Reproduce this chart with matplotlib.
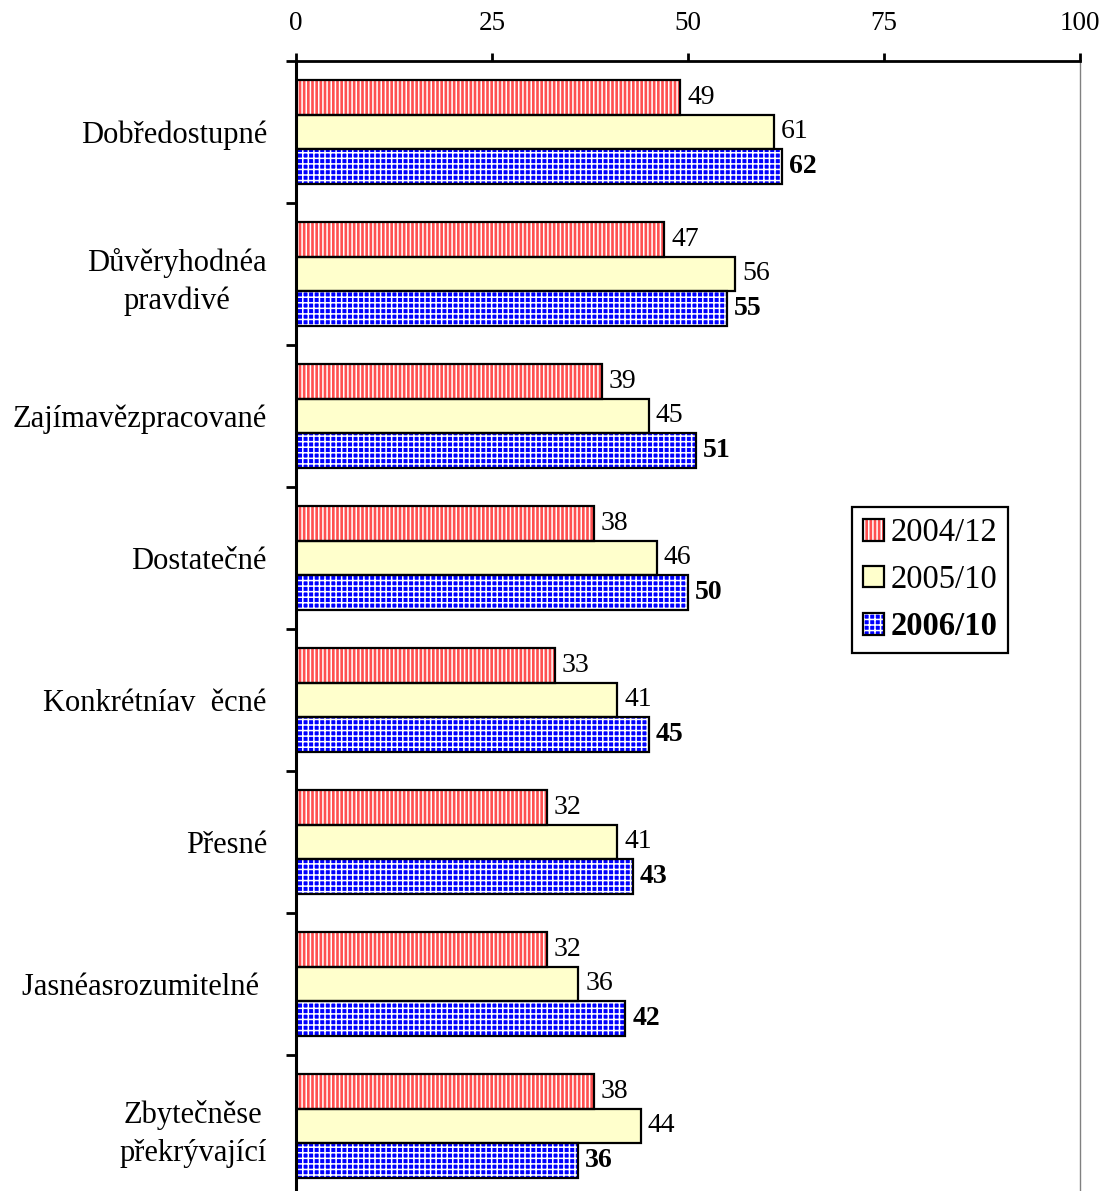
import matplotlib
matplotlib.use('Agg')
import matplotlib.pyplot as plt
import numpy as np
from matplotlib.patches import Patch
from matplotlib.legend_handler import HandlerTuple

# data
kategorie = ['Dobředostupné', 'Důvěryhodnéa\npravdivé', 'Zajímavězpracované', 'Dostatečné',
             'Konkrétníav  ěcné', 'Přesné', 'Jasnéasrozumitelné ', 'Zbytečněse\npřekrývající']
serie_2004_12 = [49, 47, 39, 38, 33, 32, 32, 38]
serie_2005_10 = [61, 56, 45, 46, 41, 41, 36, 44]
serie_2006_10 = [62, 55, 51, 50, 45, 43, 42, 36]
nazvy_serii = ['2004/12', '2005/10', '2006/10']
x_ticks = [0, 25, 50, 75, 100]

plt.rcParams['font.family'] = ['Liberation Serif', 'DejaVu Serif']
plt.rcParams['hatch.linewidth'] = 1.1

fig = plt.figure(figsize=(11.05, 11.91), dpi=100)
W, H = 1105, 1191
left, right, top, bottom = 296, 1080, 61, 1197
ax = fig.add_axes([left / W, 1 - bottom / H, (right - left) / W, (bottom - top) / H])

styly = [
    dict(face='#FF5050', hatch='||||'),
    dict(face='#FFFFCC', hatch=None),
    dict(face='#0000FF', hatch='+++'),
]

y = np.arange(len(kategorie)) + 0.5
h = 0.246
serie = [serie_2004_12, serie_2005_10, serie_2006_10]
for i, (vals, st) in enumerate(zip(serie, styly)):
    pos = y + (i - 1) * h
    ax.barh(pos, vals, height=h, color=st['face'], hatch=st['hatch'],
            edgecolor='white', linewidth=0, zorder=2)
    ax.barh(pos, vals, height=h, fill=False, edgecolor='black', linewidth=1.6, zorder=3)
    for p, v in zip(pos, vals):
        ax.annotate(str(v), (v, p), xytext=(5, 0), textcoords='offset points',
                    va='center', ha='left', fontsize=20,
                    fontweight='bold' if i == 2 else 'normal')

ax.set_xlim(0, 100)
ax.set_ylim(8, 0)

ax.xaxis.tick_top()
ax.set_xticks(x_ticks)
ax.tick_params(axis='x', direction='out', length=6, width=2, pad=12, labelsize=19.5)

ax.set_yticks(y)
ax.set_yticklabels(kategorie, fontsize=22, multialignment='center', linespacing=1.4)
ax.set_yticks(np.arange(0, 9), minor=True)
ax.tick_params(axis='y', which='major', length=0, pad=21)
ax.tick_params(axis='y', which='minor', direction='out', length=7, width=2)

ax.spines['bottom'].set_visible(False)
ax.spines['top'].set_linewidth(2)
ax.spines['left'].set_linewidth(2.2)
ax.spines['right'].set_color('#808080')
ax.spines['right'].set_linewidth(1)

handles = []
for st in styly:
    handles.append((Patch(facecolor=st['face'], hatch=st['hatch'], edgecolor='white', linewidth=0),
                    Patch(fill=False, edgecolor='black', linewidth=1.6)))
leg = fig.legend(handles, nazvy_serii, handler_map={tuple: HandlerTuple(ndivide=1, pad=0)},
                 loc='upper left', bbox_to_anchor=(852 / W, 1 - 507 / H), borderaxespad=0,
                 fontsize=23.5, handlelength=0.64, handleheight=0.64, handletextpad=0.2,
                 labelspacing=0.5, borderpad=0.33, fancybox=False, framealpha=1)
leg.get_frame().set_edgecolor('black')
leg.get_frame().set_linewidth(1.6)
leg.get_texts()[2].set_fontweight('bold')

fig.savefig('out.png', dpi=100)
